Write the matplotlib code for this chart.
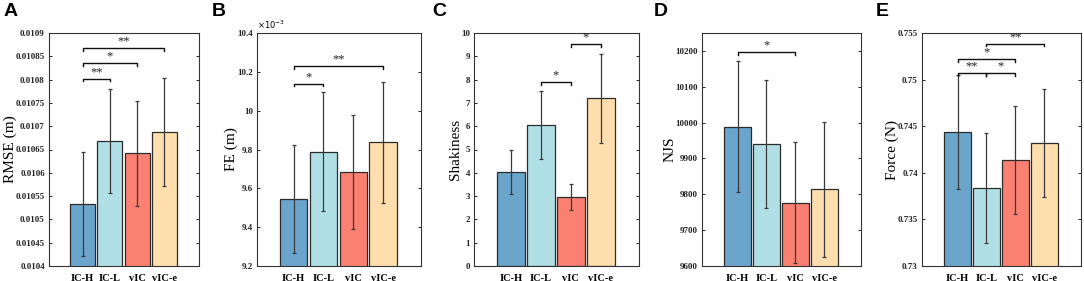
import numpy as np
import matplotlib
matplotlib.use("Agg")
import matplotlib.pyplot as plt

groups = ["IC-H", "IC-L", "vIC", "vIC-e"]
colors = ["#6ba5cc", "#b0e0e6", "#fa8072", "#ffdead"]

# panel data: means and error half-widths
rmse_mean = [0.010533, 0.010668, 0.010642, 0.010688]
rmse_err = [0.000111, 0.000111, 0.000113, 0.000116]

fe_mean = [9.545, 9.789, 9.684, 9.837]  # x 1e-3
fe_err = [0.28, 0.306, 0.293, 0.31]

shaky_mean = [4.05, 6.04, 2.96, 7.20]
shaky_err = [0.94, 1.45, 0.56, 1.92]

njs_mean = [9989, 9940, 9777, 9814]
njs_err = [182, 178, 169, 188]

force_mean = [0.74434, 0.73837, 0.74141, 0.74316]
force_err = [0.0061, 0.0059, 0.0058, 0.0058]

# significance brackets: (from, to, height, label)
rmse_sig = [(1, 2, 0.010802, "**"), (1, 3, 0.010836, "*"), (1, 4, 0.010868, "**")]
fe_sig = [(1, 2, 10.139, "*"), (1, 4, 10.228, "**")]
shaky_sig = [(2, 3, 7.90, "*"), (3, 4, 9.51, "*")]
njs_sig = [(1, 3, 10197, "*")]
force_sig = [(1, 2, 0.75067, "**"), (2, 3, 0.75067, "*"), (1, 3, 0.75218, "*"), (2, 4, 0.75386, "**")]

panels = [
    ("A", "RMSE (m)", rmse_mean, rmse_err, rmse_sig, (0.0104, 0.0109), np.arange(0.0104, 0.01091, 0.00005),
     ["0.0104", "0.01045", "0.0105", "0.01055", "0.0106", "0.01065", "0.0107", "0.01075", "0.0108", "0.01085", "0.0109"]),
    ("B", "FE (m)", fe_mean, fe_err, fe_sig, (9.2, 10.4), np.arange(9.2, 10.41, 0.2),
     ["9.2", "9.4", "9.6", "9.8", "10", "10.2", "10.4"]),
    ("C", "Shakiness", shaky_mean, shaky_err, shaky_sig, (0, 10), np.arange(0, 11, 1),
     [str(i) for i in range(11)]),
    ("D", "NJS", njs_mean, njs_err, njs_sig, (9600, 10250), np.arange(9600, 10201, 100),
     ["9600", "9700", "9800", "9900", "10000", "10100", "10200"]),
    ("E", "Force (N)", force_mean, force_err, force_sig, (0.73, 0.755), np.arange(0.73, 0.7551, 0.005),
     ["0.73", "0.735", "0.74", "0.745", "0.75", "0.755"]),
]

# axes boxes in pixels (left, width)
W, H = 1084, 281
boxes = [(49, 150), (257, 164), (474, 165), (702, 159), (922, 159)]
letter_x = [4, 212, 432, 654, 876]

fig = plt.figure(figsize=(W / 100, H / 100), dpi=100)
serif = "Liberation Serif"

for (letter, ylab, mean, err, sig, ylim, ticks, tlabels), (lx, lw), tx in zip(panels, boxes, letter_x):
    ax = fig.add_axes([lx / W, 15 / H, lw / W, 233 / H])
    x = np.arange(1, 5)
    ax.bar(x, mean, width=0.92, color=colors, edgecolor="#2b2b2b", linewidth=0.9, zorder=2)
    ax.errorbar(x, mean, yerr=err, fmt="none", ecolor="#3a3a3a", elinewidth=0.9,
                capsize=1.5, capthick=0.9, zorder=3)
    ax.set_xlim(-0.23, 5.27)
    ax.set_ylim(*ylim)
    ax.set_yticks(ticks)
    ax.set_yticklabels(tlabels, fontsize=6.5, fontweight="bold", family=serif)
    ax.set_xticks(x)
    ax.set_xticklabels(groups, fontsize=7.5, fontweight="bold", family=serif)
    ax.tick_params(axis="x", length=0, pad=5.5)
    ax.tick_params(axis="y", direction="in", length=2.5, width=0.7, right=True, pad=3, colors="#222222")
    for s in ax.spines.values():
        s.set_linewidth(0.8)
        s.set_color("#333333")
    ax.set_ylabel(ylab, fontsize=11, family=serif, labelpad=-1)

    rng = ylim[1] - ylim[0]
    for a, b, h, lab in sig:
        d = rng * 0.012
        ax.plot([a, a, b, b], [h - d, h, h, h - d], color="#111111", lw=1.0, zorder=4)
        ax.text((a + b) / 2, h + rng * 0.003, lab, ha="center", va="bottom",
                fontsize=9, family=serif, color="#222222")

    fig.text(tx / W, 1 - 3 / H, letter, fontsize=14, fontweight="bold",
             family="Liberation Sans", ha="left", va="top")

    if letter == "B":
        ax.text(0.0, 1.01, r"$\times10^{-3}$", transform=ax.transAxes, fontsize=6,
                ha="left", va="bottom", family=serif)

fig.savefig("out.png", dpi=100)
